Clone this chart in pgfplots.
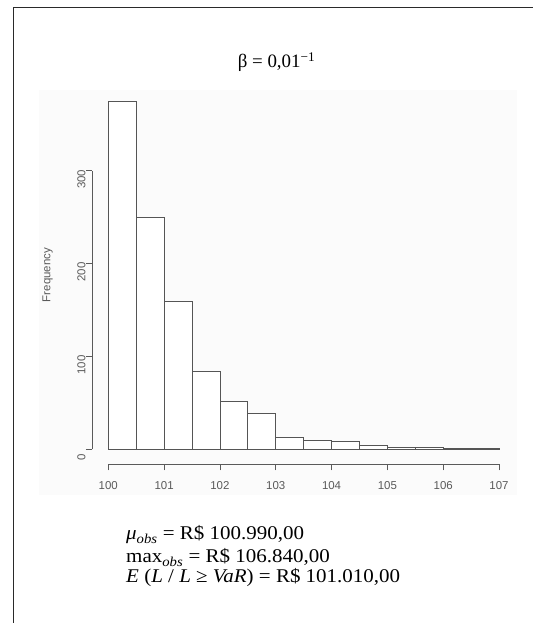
\documentclass[border=0pt]{standalone}
\usepackage{pgfplots}
\pgfplotsset{compat=1.18}
\usepackage{fontspec}
\setmainfont{Liberation Serif}
\setsansfont{Liberation Sans}
\definecolor{axgray}{HTML}{5A5A5A}
\definecolor{bargray}{HTML}{555555}
\definecolor{framec}{HTML}{2A2A2A}
\definecolor{bgc}{HTML}{FBFBFB}
\begin{document}
\begin{tikzpicture}[x=1bp,y=1bp]
\useasboundingbox (0,0) rectangle (533,623);
\draw[framec, line width=1.3bp] (13.5,0) -- (13.5,615.5) -- (534,615.5);
\fill[bgc] (39,128) rectangle (517,533);
\node[font=\fontsize{19}{21}\selectfont, anchor=base] at (276.5,555.3) {β = 0,01\textsuperscript{−1}};
\begin{axis}[
  at={(108.3bp,173.7bp)}, anchor=south west,
  scale only axis, width=390.7bp, height=278.6bp,
  xmin=100, xmax=107, ymin=0, ymax=300,
  clip=false,
  axis x line=bottom, axis y line=left,
  axis x line shift=14.7bp, axis y line shift=16bp,
  axis line style={-, axgray, line width=0.8bp},
  every tick/.style={axgray, line width=0.8bp},
  tick align=outside, major tick length=6.5bp,
  xtick={100,101,...,107}, ytick={0,100,200,300},
  /pgf/number format/assume math mode=true,
  tick label style={font=\fontsize{11.5}{13}\selectfont\sffamily, text=axgray},
  xticklabel style={anchor=north, inner sep=0pt, yshift=-11bp},
  yticklabel style={rotate=90, anchor=south, inner sep=0pt, xshift=-8.5bp},
  ylabel={Frequency},
  every axis y label/.style={at={(axis description cs:-0.1556,0.6256)}, rotate=90, anchor=center, font=\fontsize{11.5}{13}\selectfont\sffamily, text=axgray},
]
\addplot[ybar interval, draw=bargray, fill=white, line width=0.8bp] coordinates {
(100,375) (100.5,250) (101,159) (101.5,84) (102,52) (102.5,39) (103,13)
(103.5,10) (104,8) (104.5,4) (105,2) (105.5,2) (106,1) (106.5,1) (107,0)};
\end{axis}
\begin{scope}[font=\fontsize{19.5}{21}\selectfont]
\node[anchor=base west, inner sep=0pt, xscale=1.08] at (126,83) {\textit{μ}\textsubscript{\textit{obs}} = R\$ 100.990,00};
\node[anchor=base west, inner sep=0pt, xscale=1.08] at (126,60) {max\textsubscript{\textit{obs}} = R\$ 106.840,00};
\node[anchor=base west, inner sep=0pt, xscale=1.08] at (126,40) {\textit{E} (\textit{L} / \textit{L} ≥ \textit{VaR}) = R\$ 101.010,00};
\end{scope}
\end{tikzpicture}
\end{document}
